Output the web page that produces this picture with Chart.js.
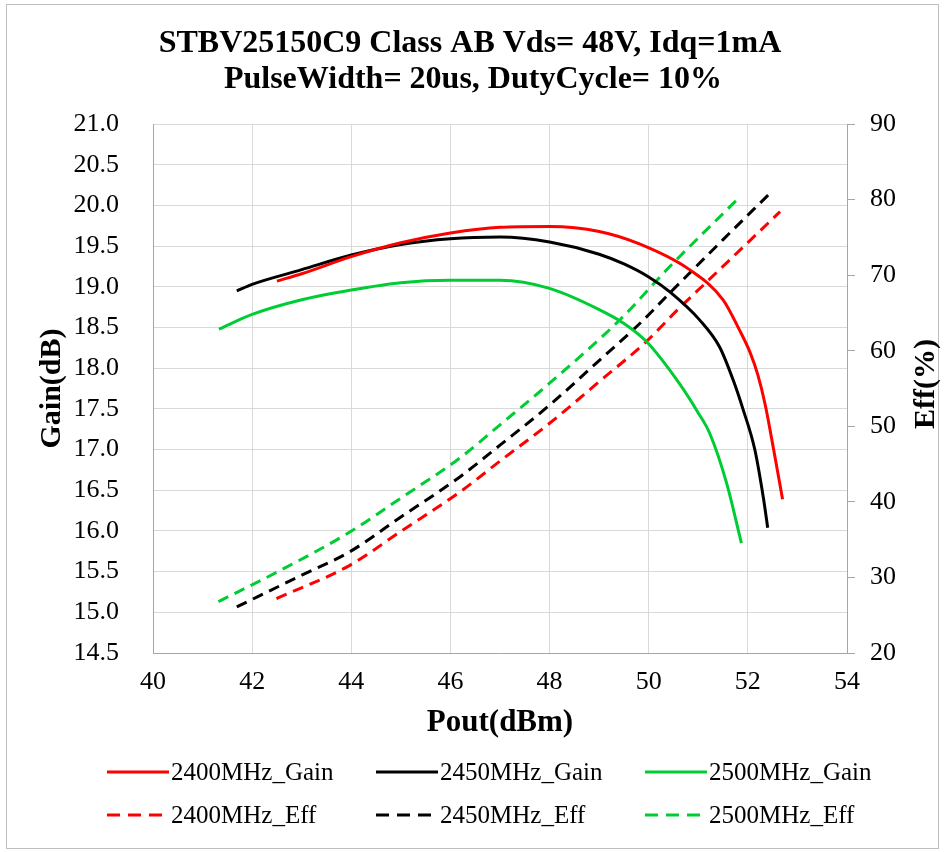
<!DOCTYPE html>
<html>
<head>
<meta charset="utf-8">
<script src="https://cdn.jsdelivr.net/npm/chart.js@4.4.0/dist/chart.umd.min.js"></script>
<style>
body{margin:0;background:#fff;}
canvas{display:block;}
</style>
</head>
<body>
<canvas id="myChart" width="944" height="852"></canvas>
<script>
var chartTitle = ["STBV25150C9 Class AB Vds= 48V, Idq=1mA", "PulseWidth= 20us, DutyCycle= 10%"];
var seriesNames = ["2400MHz_Gain", "2450MHz_Gain", "2500MHz_Gain", "2400MHz_Eff", "2450MHz_Eff", "2500MHz_Eff"];
var seriesColors = ["#ff0000", "#000000", "#00cc33"];

// gain curves : Pout(dBm) / Gain(dB)
var pout2400g = [42.5, 43.0, 44.0, 45.0, 46.0, 47.0, 48.0, 49.0, 49.8, 50.8, 51.5, 51.83, 52.04, 52.2, 52.35, 52.52, 52.7];
var gain2400 = [19.07, 19.16, 19.37, 19.54, 19.66, 19.73, 19.74, 19.68, 19.53, 19.22, 18.84, 18.47, 18.2, 17.92, 17.55, 17.0, 16.39];
var pout2450g = [41.69, 42.0, 43.0, 44.0, 45.0, 46.0, 47.0, 48.0, 49.0, 49.5, 50.0, 50.42, 51.03, 51.43, 51.7, 51.9, 52.14, 52.32, 52.4];
var gain2450 = [18.95, 19.03, 19.21, 19.39, 19.52, 19.59, 19.61, 19.55, 19.40, 19.28, 19.12, 18.94, 18.59, 18.26, 17.86, 17.5, 17.0, 16.38, 16.04];
var pout2500g = [41.33, 42.0, 43.0, 44.0, 45.0, 46.0, 47.0, 48.0, 49.0, 49.5, 49.95, 50.62, 51.0, 51.23, 51.57, 51.87];
var gain2500 = [18.48, 18.66, 18.84, 18.96, 19.05, 19.08, 19.08, 18.98, 18.72, 18.55, 18.33, 17.81, 17.45, 17.2, 16.59, 15.85];

// efficiency curves : Pout(dBm) / Eff(%)
var pout2400e = [42.49, 43.97, 45.0, 46.19, 47.0, 48.0, 49.0, 49.95, 50.58, 51.17, 52.65];
var eff2400 = [27.2, 31.6, 36.1, 41.3, 45.4, 50.4, 55.9, 61.2, 65.4, 69.1, 78.4];
var pout2450e = [41.69, 43.0, 43.97, 45.0, 46.19, 47.0, 48.0, 49.0, 49.82, 50.42, 51.5, 52.41];
var eff2450 = [26.1, 30.3, 33.4, 38.0, 43.3, 47.5, 52.8, 58.7, 63.6, 67.6, 74.7, 80.6];
var pout2500e = [41.32, 42.5, 43.97, 45.0, 46.19, 47.0, 48.0, 49.42, 50.42, 51.77];
var eff2500 = [26.8, 30.7, 36.0, 40.5, 45.8, 50.2, 55.7, 64.1, 71.1, 79.9];

var FONT = "'Liberation Serif', 'Times New Roman', serif";

function pts(xs, ys) {
    var out = [];
    for (var i = 0; i < xs.length; i++) out.push({x: xs[i], y: ys[i]});
    return out;
}

function ds(name, xs, ys, color, axis, dashed) {
    return {
        label: name,
        data: pts(xs, ys),
        borderColor: color,
        backgroundColor: color,
        borderWidth: 3,
        borderDash: dashed ? [11, 7] : [],
        pointRadius: 0,
        cubicInterpolationMode: 'monotone',
        yAxisID: axis,
        fill: false
    };
}

var datasets = [
    ds(seriesNames[0], pout2400g, gain2400, seriesColors[0], 'y', false),
    ds(seriesNames[1], pout2450g, gain2450, seriesColors[1], 'y', false),
    ds(seriesNames[2], pout2500g, gain2500, seriesColors[2], 'y', false),
    ds(seriesNames[3], pout2400e, eff2400, seriesColors[0], 'y1', true),
    ds(seriesNames[4], pout2450e, eff2450, seriesColors[1], 'y1', true),
    ds(seriesNames[5], pout2500e, eff2500, seriesColors[2], 'y1', true)
];

// title, right axis title, legend and frame drawn by hand
var extras = {
    id: 'extras',
    afterDraw: function(chart) {
        var c = chart.ctx;
        c.save();
        c.strokeStyle = '#bfbfbf';
        c.lineWidth = 1;
        c.strokeRect(6.5, 4.5, 932, 844);

        c.fillStyle = '#000';
        c.textAlign = 'center';
        c.textBaseline = 'middle';
        c.font = 'bold 32px ' + FONT;
        c.fillText(chartTitle[0], 470, 44);
        c.fillText(chartTitle[1], 473, 80);

        c.save();
        c.translate(926, 384);
        c.rotate(-Math.PI / 2);
        c.font = 'bold 30px ' + FONT;
        c.fillText('Eff(%)', 0, 0);
        c.restore();

        // legend 3 x 2
        var cols = [107, 376, 645];
        var rows = [772, 815];
        c.font = '25px ' + FONT;
        c.textAlign = 'left';
        chart.data.datasets.forEach(function(d, i) {
            var x = cols[i % 3], y = rows[Math.floor(i / 3)];
            c.strokeStyle = d.borderColor;
            c.lineWidth = 3;
            c.setLineDash(d.borderDash.length ? [13, 8] : []);
            c.beginPath();
            c.moveTo(x, y);
            c.lineTo(x + 62, y);
            c.stroke();
            c.setLineDash([]);
            c.fillStyle = '#000';
            c.fillText(d.label, x + 64, y + 1);
        });
        c.restore();
    }
};

var ctx = document.getElementById("myChart").getContext("2d");
var myChart = new Chart(ctx, {
    type: 'line',
    data: {datasets: datasets},
    options: {
        responsive: false,
        animation: false,
        devicePixelRatio: 1,
        layout: {padding: {top: 124, bottom: 99, left: 0, right: 0}},
        plugins: {legend: {display: false}, title: {display: false}, tooltip: {enabled: false}},
        scales: {
            x: {
                type: 'linear',
                min: 40, max: 54,
                afterFit: function(s) { s.height = 100; },
                ticks: {stepSize: 2, color: '#000', font: {family: FONT, size: 26}, padding: 14},
                grid: {color: '#d9d9d9', drawTicks: false},
                border: {color: '#a6a6a6'},
                title: {display: true, text: 'Pout(dBm)', color: '#000', font: {family: FONT, size: 31, weight: 'bold'}, padding: {top: 0, bottom: 11}}
            },
            y: {
                position: 'left',
                min: 14.5, max: 21,
                afterFit: function(s) { s.width = 153; },
                ticks: {stepSize: 0.5, color: '#000', font: {family: FONT, size: 26}, padding: 34,
                    callback: function(v) { return v.toFixed(1); }},
                grid: {color: '#d9d9d9', drawTicks: false},
                border: {color: '#a6a6a6'},
                title: {display: true, text: 'Gain(dB)', color: '#000', font: {family: FONT, size: 30, weight: 'bold'}, padding: {top: 34, bottom: 0}}
            },
            y1: {
                position: 'right',
                min: 20, max: 90,
                afterFit: function(s) { s.width = 97; },
                ticks: {stepSize: 10, color: '#000', font: {family: FONT, size: 26}, padding: 15},
                grid: {drawOnChartArea: false, drawTicks: true, tickLength: 8, tickColor: '#a6a6a6'},
                border: {color: '#a6a6a6'}
            }
        }
    },
    plugins: [extras]
});
</script>
</body>
</html>
